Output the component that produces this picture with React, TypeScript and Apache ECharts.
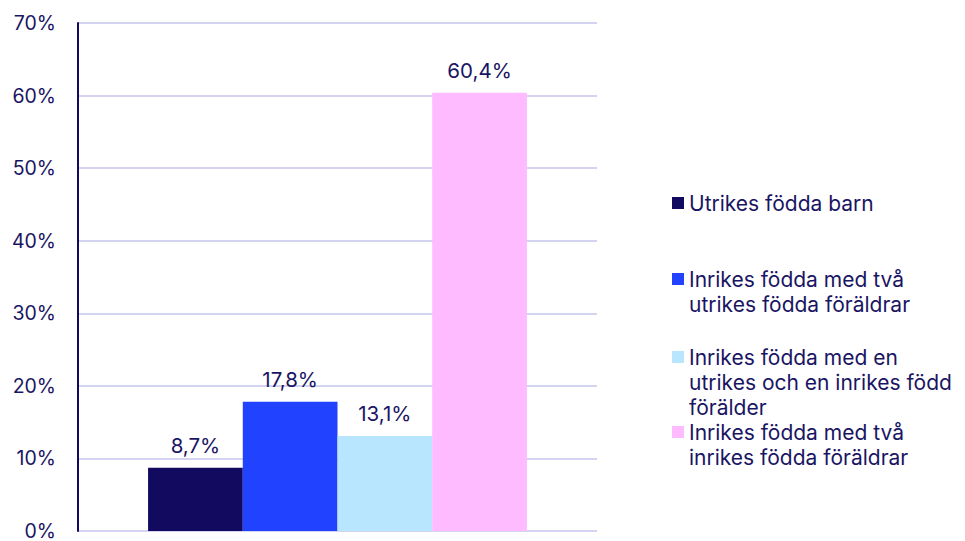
import React, { useEffect, useRef } from "react";
import * as echarts from "echarts";

const seriesNames = [
  "Utrikes födda barn",
  "Inrikes födda med två\nutrikes födda föräldrar",
  "Inrikes födda med en\nutrikes och en inrikes född\nförälder",
  "Inrikes födda med två\ninrikes födda föräldrar",
];
const seriesValues = [8.7, 17.8, 13.1, 60.4];
const seriesColors = ["#110A5F", "#2142FF", "#B8E6FE", "#FFBBFF"];
const categories = [""];
const yTicks = { min: 0, max: 70, interval: 10 };

const TEXT = "#1A1563";
const FONT = "Inter";
const LINE_H = 25;

export default function App() {
  const ref = useRef<HTMLDivElement>(null);
  useEffect(() => {
    if (!ref.current) return;
    const chart = echarts.init(ref.current, undefined, { renderer: "svg" });
    const iconCenters = [203, 279, 357, 432];
    const legends = seriesNames.map((name, i) => {
      const n = name.split("\n").length;
      const h = n * LINE_H - 13;
      return {
        data: [name],
        left: 672,
        top: iconCenters[i] - 12.5,
        padding: 0,
        orient: "vertical",
        icon: `path://M0,0L12,0L12,12L0,12Z M0,${h}L12,${h}`,
        itemWidth: 12,
        itemHeight: h,
        selectedMode: false,
        itemStyle: { borderWidth: 0 },
        textStyle: {
          color: TEXT,
          fontFamily: FONT,
          fontSize: 21,
          lineHeight: LINE_H,
        },
      };
    });
    chart.setOption({
      animation: false,
      textStyle: { fontFamily: FONT },
      grid: { left: 78, right: 368, top: 23, bottom: 8, containLabel: false },
      legend: legends,
      xAxis: {
        type: "category",
        data: categories,
        axisLine: { show: false },
        axisTick: { show: false },
        axisLabel: { show: false },
      },
      yAxis: {
        type: "value",
        min: yTicks.min,
        max: yTicks.max,
        interval: yTicks.interval,
        axisLine: { show: true, lineStyle: { color: "#110A5F", width: 2 } },
        axisTick: { show: false },
        axisLabel: {
          formatter: "{value}%",
          color: TEXT,
          fontFamily: FONT,
          fontSize: 19.5,
          margin: 22,
        },
        splitLine: { lineStyle: { color: "#D4D4F0", width: 2 } },
      },
      series: seriesNames.map((name, i) => ({
        type: "bar",
        name,
        data: [seriesValues[i]],
        barGap: "0%",
        barCategoryGap: "27%",
        itemStyle: { color: seriesColors[i] },
        label: {
          show: true,
          position: "top",
          distance: 12,
          color: TEXT,
          fontFamily: FONT,
          fontSize: 20.5,
          formatter: (p: any) => String(p.value).replace(".", ",") + "%",
        },
      })),
    });
    return () => chart.dispose();
  }, []);
  return <div ref={ref} style={{ width: 965, height: 541, position: "absolute", left: 0, top: 0 }} />;
}
